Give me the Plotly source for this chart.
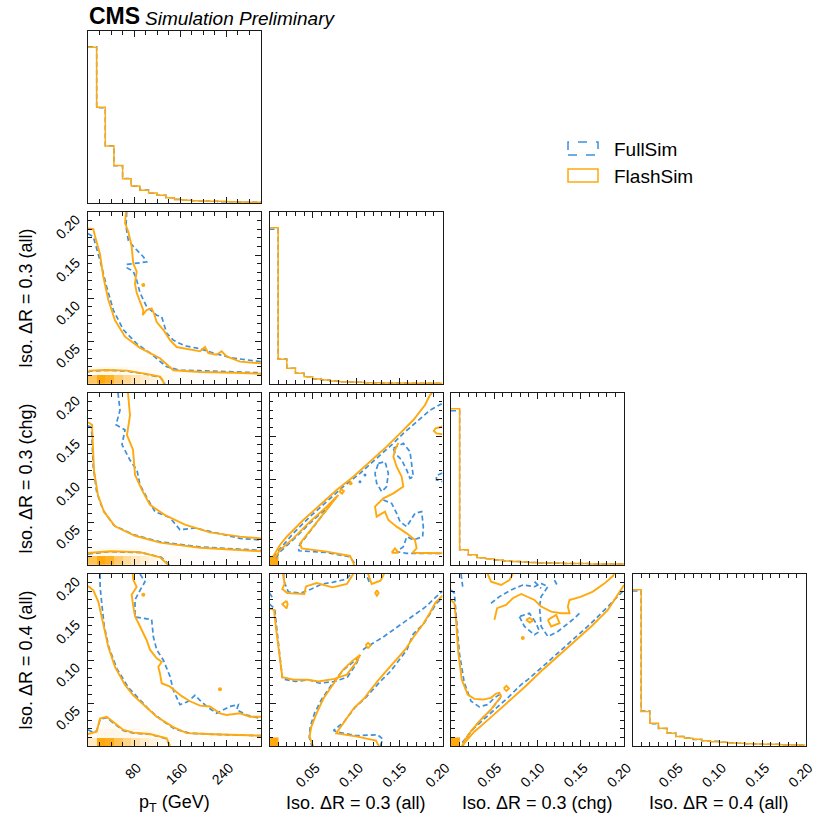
import numpy as np
import plotly.graph_objects as go

FONT = "Liberation Sans, Arial, Helvetica, sans-serif"
FULL_COLOR = "#3f90da"
FLASH_COLOR = "#ffa90e"
AX_COLOR = "#1a1a1a"

# ---------------- variables / axes ----------------
VAR_LABELS = ["p<sub>T</sub> (GeV)", "Iso. ΔR = 0.3 (all)", "Iso. ΔR = 0.3 (chg)", "Iso. ΔR = 0.4 (all)"]
VAR_RANGES = [(0.0, 300.0), (0.0, 0.2), (0.0, 0.2), (0.0, 0.2)]
VAR_TICKVALS = [[80, 160, 240], [0.05, 0.10, 0.15, 0.20], [0.05, 0.10, 0.15, 0.20], [0.05, 0.10, 0.15, 0.20]]
VAR_TICKTEXT = [["80", "160", "240"], ["0.05", "0.10", "0.15", "0.20"],
                ["0.05", "0.10", "0.15", "0.20"], ["0.05", "0.10", "0.15", "0.20"]]
VAR_MINOR = [20, 0.01, 0.01, 0.01]
N_BINS = 20

# ---------------- 1D histograms (20 bins over the axis range) ----------------
hist_pt_full = [470, 286, 172, 112, 74, 50, 39, 29, 23, 16, 11, 8, 7, 6, 5, 4, 4, 3, 2, 2]
hist_pt_flash = [468, 288, 171, 113, 73, 51, 38, 30, 23, 16, 10, 8, 7, 6, 5, 5, 4, 3, 2, 2]
hist_iso03all_full = [462, 75, 47, 32, 22, 15, 12, 9, 7, 6, 5, 4, 4, 3, 3, 3, 2, 2, 2, 2]
hist_iso03all_flash = [467, 74, 47, 32, 22, 15, 12, 9, 7, 6, 5, 4, 4, 3, 3, 3, 2, 2, 2, 2]
hist_iso03chg_full = [151, 15, 10, 7, 6, 5, 4, 3.5, 3, 2.5, 2, 2, 1.8, 1.5, 1.5, 1.4, 1, 1, 1, 1]
hist_iso03chg_flash = [153, 15, 10, 7, 6, 5, 4, 3.5, 3, 2.5, 2, 2, 2, 1.5, 1.5, 1.5, 1, 1, 1, 1]
hist_iso04all_full = [462, 104, 66, 52, 39, 28, 24, 19, 16, 14, 11, 10, 8, 7, 6, 5, 5, 4, 4, 3]
hist_iso04all_flash = [466, 103, 68, 53, 38, 28, 23, 20, 16, 13, 11, 9, 8, 7, 6, 5, 5, 4, 4, 3]

# ---------------- 2D density (FlashSim, bottom bins) ----------------
dens_pt_iso03all = [
    [0.65, 1.0, 0.9, 0.62, 0.45, 0.32, 0.22, 0.14, 0.07, 0.03, 0.02, 0.02, 0.02, 0.01, 0.01, 0.01, 0.01, 0.01, 0.01, 0.01],
    [0.04, 0.07, 0.07, 0.06, 0.05, 0.04, 0.03, 0.03, 0.02, 0.02, 0.01, 0.01, 0.01, 0.01, 0.01, 0.01, 0.01, 0.01, 0.01, 0.01],
]
dens_pt_iso03chg = [
    [0.7, 1.0, 0.9, 0.6, 0.42, 0.3, 0.2, 0.12, 0.06, 0.03, 0.02, 0.02, 0.01, 0.01, 0.01, 0.01, 0.01, 0.01, 0.01, 0.01],
    [0.04, 0.07, 0.07, 0.06, 0.05, 0.04, 0.03, 0.02, 0.02, 0.01, 0.01, 0.01, 0.01, 0.01, 0.01, 0.01, 0.01, 0.01, 0.01, 0.01],
]
dens_pt_iso04all = [
    [0.25, 1.0, 0.95, 0.7, 0.5, 0.35, 0.22, 0.14, 0.08, 0.04, 0.02, 0.02, 0.02, 0.01, 0.01, 0.01, 0.01, 0.01, 0.01, 0.01],
    [0.03, 0.1, 0.1, 0.09, 0.08, 0.06, 0.05, 0.04, 0.03, 0.02, 0.01, 0.01, 0.01, 0.01, 0.01, 0.01, 0.01, 0.01, 0.01, 0.01],
    [0.01, 0.03, 0.04, 0.04, 0.03, 0.02, 0.02, 0.01, 0.01, 0.01, 0.0, 0.0, 0.0, 0.0, 0.0, 0.0, 0.0, 0.0, 0.0, 0.0],
]
dens_iso_corner = [[1.0]]

# ---------------- contour lines (data units) ----------------
# pT vs Iso03(all)
c21_flash_inner = [(0.5, 0.0143), (3.5, 0.0155), (32.4, 0.0163), (67.1, 0.0155), (95.9, 0.0124), (124.9, 0.0085), (130.6, 0.0027), (131.5, 0.0)]
c21_flash_mid = [(0, 0.181), (9.2, 0.180), (12.1, 0.172), (20.8, 0.151), (26.5, 0.125), (35.2, 0.098), (46.8, 0.074), (64.2, 0.055),
                 (90.2, 0.042), (124.9, 0.030), (148, 0.016), (194, 0.014), (252, 0.013), (300, 0.012)]
c21_flash_outer = [(65.9, 0.2), (64.2, 0.187), (69.9, 0.177), (75.7, 0.160), (78.5, 0.140), (84.4, 0.131), (81.5, 0.117), (84.4, 0.106),
                   (95.9, 0.086), (94.8, 0.080), (101.7, 0.086), (110.4, 0.088), (114.4, 0.082), (119.1, 0.072), (130.6, 0.063),
                   (142.2, 0.051), (153.8, 0.043), (171.1, 0.041), (194.2, 0.038), (202.8, 0.043), (208.6, 0.036), (223.1, 0.034),
                   (231.7, 0.038), (240.4, 0.032), (263.5, 0.026), (300, 0.024)]
c21_flash_dots = [(95.9, 0.115)]
c21_full_inner = [(0.5, 0.0135), (3.5, 0.015), (32.4, 0.016), (67.1, 0.015), (95.9, 0.012), (124.9, 0.008), (132, 0.0025), (133, 0.0)]
c21_full_mid = [(0, 0.175), (9.2, 0.171), (20.8, 0.144), (32.4, 0.113), (43.9, 0.086), (61.3, 0.063), (84.4, 0.047), (107.5, 0.036),
                (136.5, 0.020), (159.5, 0.016), (194.2, 0.0155), (300, 0.013)]
c21_full_outer = [(67.1, 0.2), (65.9, 0.183), (69.9, 0.167), (78.5, 0.160), (95.9, 0.148), (101.7, 0.142), (90.2, 0.141), (67.1, 0.139),
                  (68.1, 0.135), (78.5, 0.131), (84.4, 0.121), (90.2, 0.106), (101.7, 0.090), (119.1, 0.080), (127.8, 0.078),
                  (133.5, 0.067), (136.5, 0.059), (147.9, 0.051), (159.5, 0.047), (171.1, 0.044), (194.2, 0.041), (217.3, 0.036),
                  (252, 0.030), (300, 0.026)]

# pT vs Iso03(chg)
c31_flash_inner = [(0, 0.014), (38, 0.016), (90, 0.015), (125, 0.009), (139, 0.0)]
c31_flash_mid = [(0, 0.166), (6.9, 0.163), (10.4, 0.110), (17.3, 0.081), (27.7, 0.062), (46.8, 0.045), (81.5, 0.034), (124.9, 0.026),
                 (194.2, 0.020), (300, 0.016)]
c31_flash_outer = [(69.4, 0.2), (72.8, 0.174), (67.6, 0.151), (78, 0.134), (81.5, 0.105), (93.6, 0.087), (107.5, 0.07), (133.5, 0.058),
                   (168.2, 0.047), (211.5, 0.038), (263.5, 0.033), (300, 0.031)]
c31_full_inner = [(0, 0.013), (38, 0.0155), (92, 0.0145), (127, 0.009), (141, 0.0)]
c31_full_mid = [(0, 0.162), (6, 0.160), (9, 0.115), (15, 0.085), (26, 0.064), (45, 0.046), (80, 0.035), (125, 0.027), (194, 0.021), (300, 0.017)]
c31_full_outer = [(52, 0.2), (55.5, 0.18), (48.6, 0.163), (64.2, 0.157), (58.9, 0.14), (72.8, 0.122), (85, 0.11), (90.2, 0.093),
                  (104, 0.076), (116.2, 0.062), (142.2, 0.055), (159.5, 0.041), (185.5, 0.043), (220.2, 0.038), (263.5, 0.031), (300, 0.029)]

# pT vs Iso04(all)
c41_flash_inner = [(0, 0.014), (15, 0.0167), (20.8, 0.032), (32.4, 0.034), (43.9, 0.028), (61.3, 0.0186), (78.6, 0.0155),
                   (107.5, 0.014), (136.5, 0.0089), (142.2, 0.0)]
c41_flash_mid = [(0, 0.186), (2.3, 0.185), (9.2, 0.181), (17.9, 0.168), (26.5, 0.143), (35.2, 0.115), (46.8, 0.092), (64.2, 0.071),
                 (78.5, 0.059), (95.9, 0.048), (119.1, 0.034), (148, 0.022), (171.1, 0.015), (217.3, 0.0136), (300, 0.012)]
c41_flash_outer = [(77.5, 0.2), (78.6, 0.193), (84.4, 0.185), (75.7, 0.176), (78.6, 0.162), (81.5, 0.151), (90.2, 0.139), (101.7, 0.123),
                   (107.5, 0.112), (119.1, 0.102), (127.8, 0.098), (121.9, 0.092), (124.9, 0.084), (127.8, 0.073), (142.2, 0.069),
                   (153.8, 0.063), (162.5, 0.058), (176.9, 0.052), (194.2, 0.047), (211.5, 0.046), (228.8, 0.038), (240.4, 0.036),
                   (263.5, 0.038), (280.8, 0.034), (300, 0.034)]
c41_flash_dots = [(95.9, 0.176), (228.9, 0.066)]
c41_full_inner = [(0, 0.019), (8, 0.016), (15, 0.0175), (21, 0.031), (32, 0.033), (44, 0.027), (61, 0.018), (79, 0.015), (108, 0.0135),
                  (136, 0.0085), (142, 0.0)]
c41_full_mid = [(21, 0.2), (21, 0.185), (24, 0.165), (28, 0.14), (36, 0.115), (50, 0.09), (70, 0.068), (88, 0.055), (105, 0.043),
                (128, 0.030), (150, 0.020), (175, 0.015), (220, 0.0135), (300, 0.012)]
c41_full_outer = [(90.2, 0.2), (98.8, 0.191), (90.2, 0.181), (81.5, 0.170), (81.5, 0.150), (110.4, 0.147), (113.3, 0.127), (119.1, 0.112),
                  (130.6, 0.100), (142.2, 0.081), (148, 0.065), (159.5, 0.048), (174, 0.052), (185.5, 0.059), (194.2, 0.053),
                  (205.8, 0.046), (223.1, 0.038), (246.2, 0.046), (260.7, 0.048), (257.8, 0.042), (275.2, 0.036), (300, 0.032)]

# Iso03(all) vs Iso03(chg)
c32_flash_o1 = [(0.003, 0.008), (0.0121, 0.0233), (0.0199, 0.0329), (0.0391, 0.0523), (0.0584, 0.0698), (0.0776, 0.0872), (0.0969, 0.1027),
                (0.1162, 0.1202), (0.1354, 0.1376), (0.1509, 0.1531), (0.1663, 0.1686), (0.1798, 0.186), (0.1855, 0.1977), (0.188, 0.2)]
c32_flash_o2 = [(0.006, 0.008), (0.0121, 0.0174), (0.0275, 0.031), (0.0468, 0.0504), (0.0661, 0.0678), (0.0796, 0.0814), (0.0353, 0.0252),
                (0.0372, 0.0194), (0.0661, 0.0155), (0.0931, 0.0105), (0.0969, 0.0027), (0.0977, 0.0)]
c32_flash_r = [(0.149, 0.142), (0.1451, 0.1337), (0.1432, 0.126), (0.147, 0.1143), (0.1528, 0.1027), (0.1547, 0.0911), (0.1432, 0.0833),
               (0.1316, 0.0775), (0.122, 0.0678), (0.1239, 0.0562), (0.1335, 0.062), (0.1374, 0.0523), (0.147, 0.0446), (0.1586, 0.0368),
               (0.1682, 0.0291), (0.1701, 0.0194), (0.1655, 0.0143), (0.1817, 0.0136), (0.2, 0.0136)]
c32_flash_tri = [(0.1412, 0.0143), (0.1451, 0.0194), (0.149, 0.0143), (0.1412, 0.0143)]
c32_flash_edge = [(0.2, 0.161), (0.192, 0.159), (0.19, 0.156), (0.193, 0.153), (0.2, 0.152)]
c32_flash_loop = [(0.081, 0.085), (0.083, 0.088), (0.086, 0.086), (0.084, 0.083), (0.081, 0.085)]
c32_flash_dots = [(0.0937, 0.095)]
c32_full_b1 = [(0.004, 0.009), (0.0275, 0.0368), (0.0468, 0.0562), (0.0661, 0.0736), (0.0853, 0.0911), (0.1046, 0.1066), (0.1239, 0.124),
               (0.1432, 0.1415), (0.1547, 0.1531), (0.1701, 0.1667), (0.1855, 0.180), (0.2, 0.188)]
c32_full_b2 = [(0.007, 0.008), (0.013, 0.016), (0.028, 0.030), (0.047, 0.049), (0.066, 0.066), (0.0776, 0.0795), (0.0334, 0.0213),
               (0.034, 0.0165), (0.066, 0.0145), (0.093, 0.0095), (0.098, 0.0025), (0.099, 0.0)]
c32_full_l1 = [(0.1432, 0.1357), (0.1547, 0.1414), (0.1624, 0.1318), (0.1644, 0.1143), (0.1663, 0.1027), (0.1624, 0.1008),
               (0.1586, 0.1105), (0.1528, 0.1221), (0.1451, 0.1299), (0.1432, 0.1357)]
c32_full_l2 = [(0.1258, 0.1182), (0.1335, 0.1202), (0.1374, 0.1066), (0.1354, 0.0911), (0.1297, 0.0853), (0.1239, 0.095),
               (0.122, 0.1066), (0.1258, 0.1182)]
c32_full_l3 = [(0.1316, 0.0756), (0.1412, 0.0717), (0.147, 0.0601), (0.1509, 0.0504), (0.1586, 0.0446), (0.1682, 0.0601),
               (0.1759, 0.062), (0.1778, 0.0446), (0.1771, 0.0329), (0.1663, 0.0291), (0.1586, 0.0329), (0.1547, 0.0213),
               (0.147, 0.0155), (0.1586, 0.0136), (0.2, 0.0136)]
c32_full_edge = [(0.2, 0.107), (0.193, 0.104), (0.193, 0.099), (0.2, 0.097)]
c32_full_dots = [(0.1104, 0.1046), (0.1046, 0.0969)]

# Iso03(all) vs Iso04(all)
c42_flash_u = [(0, 0.160), (0.0053, 0.158), (0.0074, 0.138), (0.0107, 0.112), (0.0148, 0.080), (0.0279, 0.077), (0.0443, 0.077),
               (0.0566, 0.075), (0.075, 0.078), (0.0894, 0.083), (0.1, 0.097), (0.105, 0.106), (0.0955, 0.0987),
               (0.0853, 0.0889), (0.073, 0.0714), (0.0627, 0.0558), (0.0545, 0.0382), (0.0484, 0.0226), (0.0463, 0.0109), (0.0504, 0.0)]
c42_flash_r = [(0.1263, 0.0), (0.123, 0.0062), (0.1017, 0.0109), (0.0771, 0.0148), (0.0853, 0.0265), (0.0976, 0.0441), (0.1099, 0.0558),
               (0.114, 0.0616), (0.1263, 0.0772), (0.1365, 0.0889), (0.1488, 0.1026), (0.157, 0.1123), (0.1673, 0.1279),
               (0.1775, 0.1416), (0.1857, 0.1552), (0.1919, 0.1669), (0.2, 0.1747)]
c42_flash_tl = [(0.0156, 0.2), (0.0176, 0.1884), (0.0148, 0.1825), (0.0205, 0.1778), (0.0402, 0.1767), (0.0422, 0.1856), (0.0545, 0.1895),
                (0.073, 0.1845), (0.0894, 0.1884), (0.0955, 0.1973), (0.0968, 0.2)]
c42_flash_tb = [(0.114, 0.2), (0.1181, 0.1884), (0.1283, 0.1923), (0.1324, 0.2)]
c42_flash_d1 = [(0.1242, 0.181), (0.1262, 0.1778), (0.1242, 0.1746), (0.1222, 0.1778), (0.1242, 0.181)]
c42_flash_d2 = [(0.0197, 0.1689), (0.0148, 0.165), (0.0197, 0.16), (0.021, 0.165), (0.0197, 0.1689)]
c42_flash_d3 = [(0.111, 0.117), (0.114, 0.120), (0.117, 0.117), (0.114, 0.114), (0.111, 0.117)]
c42_full_u = [(0, 0.165), (0.006, 0.160), (0.008, 0.140), (0.011, 0.110), (0.015, 0.078), (0.03, 0.075), (0.045, 0.077), (0.058, 0.073),
              (0.075, 0.075), (0.09, 0.080), (0.1, 0.095), (0.104, 0.104), (0.096, 0.097), (0.084, 0.087), (0.071, 0.07), (0.06, 0.054),
              (0.052, 0.038), (0.047, 0.022), (0.046, 0.01), (0.049, 0.0)]
c42_full_diag = [(0.108, 0.112), (0.114, 0.1162), (0.1304, 0.126), (0.1468, 0.1377), (0.1632, 0.1494), (0.1796, 0.1611),
                 (0.1919, 0.1728), (0.2, 0.18)]
c42_full_r = [(0.128, 0.0), (0.131, 0.008), (0.125, 0.013), (0.10, 0.012), (0.08, 0.016), (0.074, 0.018), (0.086, 0.028), (0.099, 0.045),
              (0.112, 0.057), (0.128, 0.075), (0.140, 0.087), (0.15, 0.10), (0.159, 0.112), (0.166, 0.13), (0.178, 0.142), (0.187, 0.156),
              (0.193, 0.166), (0.2, 0.172)]
c42_full_tl = [(0.0164, 0.2), (0.0164, 0.1923), (0.0217, 0.1794), (0.0361, 0.1778), (0.0484, 0.1825), (0.0607, 0.1884), (0.073, 0.1903),
               (0.0894, 0.1942), (0.0935, 0.2)]
c42_full_tb = [(0.1132, 0.1962), (0.116, 0.1884)]
c42_full_edge = [(0, 0.178), (0.005, 0.170)]

# Iso03(chg) vs Iso04(all)
c43_flash_d1 = [(0.0124, 0.0), (0.027, 0.0166), (0.0463, 0.0336), (0.0656, 0.051), (0.0849, 0.0683), (0.1042, 0.0869), (0.1235, 0.1042),
                (0.1428, 0.1216), (0.1621, 0.139), (0.1814, 0.1583), (0.193, 0.1756), (0.2, 0.1872)]
c43_flash_u = [(0, 0.1698), (0.0039, 0.166), (0.0058, 0.1467), (0.0085, 0.108), (0.0124, 0.0772), (0.0193, 0.0598), (0.027, 0.0548),
               (0.0367, 0.054), (0.0463, 0.056), (0.0521, 0.061), (0.056, 0.0618), (0.0579, 0.0579), (0.0463, 0.0425), (0.0347, 0.0309),
               (0.0232, 0.0174), (0.0154, 0.0058), (0.0139, 0.0)]
c43_flash_upper = [(0.0502, 0.1467), (0.0533, 0.1602), (0.0637, 0.1641), (0.0714, 0.1718), (0.0811, 0.1768), (0.0965, 0.1698),
                   (0.1042, 0.1621), (0.1158, 0.1563), (0.1274, 0.1544), (0.137, 0.1544), (0.1351, 0.1621), (0.137, 0.1698),
                   (0.1505, 0.1737), (0.164, 0.1795), (0.1776, 0.1891), (0.1872, 0.1976), (0.1884, 0.2)]
c43_flash_top = [(0.0425, 0.2), (0.0463, 0.1911), (0.0579, 0.1872), (0.0676, 0.193), (0.0714, 0.2)]
c43_flash_diamond = [(0.112, 0.1467), (0.1216, 0.1525), (0.1255, 0.1428), (0.1158, 0.139), (0.112, 0.1467)]
c43_flash_loop = [(0.0869, 0.1467), (0.091, 0.149), (0.0946, 0.1459), (0.091, 0.1436), (0.0869, 0.1467)]
c43_flash_loop2 = [(0.061, 0.067), (0.064, 0.070), (0.067, 0.067), (0.064, 0.064), (0.061, 0.067)]
c43_flash_dots = [(0.083, 0.1255)]
c43_full_d = [(0.013, 0.004), (0.027, 0.0212), (0.0463, 0.0386), (0.0656, 0.056), (0.0811, 0.0714), (0.0888, 0.0772), (0.1042, 0.0907),
              (0.1235, 0.1081), (0.1428, 0.1255), (0.1621, 0.1428), (0.1814, 0.1621), (0.2, 0.1814)]
c43_full_u = [(0, 0.1814), (0.0039, 0.1776), (0.0058, 0.1544), (0.0097, 0.108), (0.0154, 0.0733), (0.0232, 0.0521), (0.0328, 0.0455),
              (0.0425, 0.0482), (0.0502, 0.056), (0.056, 0.0598), (0.0579, 0.057), (0.046, 0.042), (0.034, 0.030), (0.023, 0.017),
              (0.015, 0.005), (0.014, 0.0)]
c43_full_upper = [(0.0463, 0.166), (0.056, 0.1737), (0.0695, 0.1814), (0.083, 0.1872), (0.0965, 0.1853), (0.1042, 0.1891), (0.112, 0.1853),
                  (0.1042, 0.1737), (0.1023, 0.1621), (0.1042, 0.139), (0.112, 0.1274), (0.1235, 0.1332), (0.1428, 0.1486), (0.1505, 0.1563)]
c43_full_loop = [(0.0791, 0.1505), (0.0849, 0.139), (0.0965, 0.1293), (0.1023, 0.1332), (0.0984, 0.1428), (0.0907, 0.1544), (0.0791, 0.1505)]
c43_full_tl = [(0.0116, 0.2), (0.0135, 0.1853)]
c43_full_sq = [(0.1197, 0.193), (0.1235, 0.1853)]
c43_full_x = [(0.0965, 0.1911), (0.1042, 0.1834)]

# ---------------- panel bookkeeping ----------------
HISTS = {
    0: (hist_pt_full, hist_pt_flash),
    1: (hist_iso03all_full, hist_iso03all_flash),
    2: (hist_iso03chg_full, hist_iso03chg_flash),
    3: (hist_iso04all_full, hist_iso04all_flash),
}
PANELS_2D = {
    (1, 0): dict(full=[c21_full_inner, c21_full_mid, c21_full_outer], flash=[c21_flash_inner, c21_flash_mid, c21_flash_outer],
                 full_dots=[], flash_dots=c21_flash_dots, dens=dens_pt_iso03all),
    (2, 0): dict(full=[c31_full_inner, c31_full_mid, c31_full_outer], flash=[c31_flash_inner, c31_flash_mid, c31_flash_outer],
                 full_dots=[], flash_dots=[], dens=dens_pt_iso03chg),
    (3, 0): dict(full=[c41_full_inner, c41_full_mid, c41_full_outer], flash=[c41_flash_inner, c41_flash_mid, c41_flash_outer],
                 full_dots=[], flash_dots=c41_flash_dots, dens=dens_pt_iso04all),
    (2, 1): dict(full=[c32_full_b1, c32_full_b2, c32_full_l1, c32_full_l2, c32_full_l3, c32_full_edge],
                 flash=[c32_flash_o1, c32_flash_o2, c32_flash_r, c32_flash_tri, c32_flash_edge, c32_flash_loop],
                 full_dots=c32_full_dots, flash_dots=c32_flash_dots, dens=dens_iso_corner),
    (3, 1): dict(full=[c42_full_u, c42_full_diag, c42_full_r, c42_full_tl, c42_full_tb, c42_full_edge],
                 flash=[c42_flash_u, c42_flash_r, c42_flash_tl, c42_flash_tb, c42_flash_d1, c42_flash_d2, c42_flash_d3],
                 full_dots=[], flash_dots=[], dens=dens_iso_corner),
    (3, 2): dict(full=[c43_full_d, c43_full_u, c43_full_upper, c43_full_loop, c43_full_tl, c43_full_sq, c43_full_x],
                 flash=[c43_flash_d1, c43_flash_u, c43_flash_upper, c43_flash_top, c43_flash_diamond, c43_flash_loop, c43_flash_loop2],
                 full_dots=[], flash_dots=c43_flash_dots, dens=dens_iso_corner),
}

# layout geometry (pixels in the 816x821 canvas)
W, H = 816, 821
COL_LEFT = [88, 269.5, 451, 632.5]
ROW_TOP = [31, 212, 393, 574]
PW, PH = 173, 172

AXIS_ID = {}
k = 1
for r in range(4):
    for c in range(r + 1):
        AXIS_ID[(r, c)] = k
        k += 1


def xd(c):
    return [COL_LEFT[c] / W, (COL_LEFT[c] + PW) / W]


def yd(r):
    return [1 - (ROW_TOP[r] + PH) / H, 1 - ROW_TOP[r] / H]


def edges(var):
    lo, hi = VAR_RANGES[var]
    return np.linspace(lo, hi, N_BINS + 1)


fig = go.Figure()
layout = {}

tickfont = dict(family=FONT, size=14, color="#000")


def var_axis(var, domain, anchor, show_labels, is_x):
    ax = dict(
        domain=domain, anchor=anchor, range=list(VAR_RANGES[var]),
        tickmode="array", tickvals=VAR_TICKVALS[var], ticktext=VAR_TICKTEXT[var],
        showticklabels=show_labels, ticks="inside", ticklen=6, tickwidth=1, tickcolor=AX_COLOR,
        minor=dict(dtick=VAR_MINOR[var], tick0=0, ticks="inside", ticklen=3.5, tickwidth=1, tickcolor=AX_COLOR),
        showline=True, linecolor=AX_COLOR, linewidth=1.4, mirror="allticks",
        showgrid=False, zeroline=False, tickangle=-45, tickfont=tickfont, fixedrange=True,
        automargin=False, ticklabeloverflow="allow",
    )
    if is_x:
        ax["ticklabelshift"] = 3
        ax["ticklabelstandoff"] = 7
    else:
        ax["ticklabelshift"] = 6
        ax["ticklabelstandoff"] = 8
    return ax


for (r, c), kid in AXIS_ID.items():
    xs = "x" if kid == 1 else f"x{kid}"
    ys = "y" if kid == 1 else f"y{kid}"
    xkey = "xaxis" if kid == 1 else f"xaxis{kid}"
    ykey = "yaxis" if kid == 1 else f"yaxis{kid}"
    layout[xkey] = var_axis(c, xd(c), ys, r == 3, True)
    if r == c:
        full_v, flash_v = HISTS[r]
        e = edges(r)
        ymax = 1.1 * max(max(full_v), max(flash_v))
        layout[ykey] = dict(domain=yd(r), anchor=xs, range=[0, ymax], showticklabels=False, ticks="",
                            showline=True, linecolor=AX_COLOR, linewidth=1.4, mirror=True,
                            showgrid=False, zeroline=False, fixedrange=True, automargin=False)
        for vals, col, dash in [(full_v, FULL_COLOR, "5px,3px"), (flash_v, FLASH_COLOR, "solid")]:
            fig.add_trace(go.Scatter(x=list(e), y=list(vals) + [vals[-1]], mode="lines", line_shape="hv",
                                     line=dict(color=col, width=1.5, dash=dash), xaxis=xs, yaxis=ys,
                                     showlegend=False, hoverinfo="skip"))
    else:
        layout[ykey] = var_axis(r, yd(r), xs, c == 0, False)
        p = PANELS_2D[(r, c)]
        dens = p["dens"]
        ex = edges(c)[: len(dens[0]) + 1]
        ey = edges(r)[: len(dens) + 1]
        fig.add_trace(go.Heatmap(x=list(ex), y=list(ey), z=dens, zmin=0, zmax=1,
                                 colorscale=[[0, "#ffffff"], [1, FLASH_COLOR]], showscale=False,
                                 xaxis=xs, yaxis=ys, hoverinfo="skip"))
        for cur in p["full"]:
            fig.add_trace(go.Scatter(x=[pt[0] for pt in cur], y=[pt[1] for pt in cur], mode="lines",
                                     line=dict(color=FULL_COLOR, width=1.7, dash="5px,3px"),
                                     xaxis=xs, yaxis=ys, showlegend=False, hoverinfo="skip"))
        if p["full_dots"]:
            fig.add_trace(go.Scatter(x=[pt[0] for pt in p["full_dots"]], y=[pt[1] for pt in p["full_dots"]], mode="markers",
                                     marker=dict(color=FULL_COLOR, size=3), xaxis=xs, yaxis=ys,
                                     showlegend=False, hoverinfo="skip"))
        for cur in p["flash"]:
            fig.add_trace(go.Scatter(x=[pt[0] for pt in cur], y=[pt[1] for pt in cur], mode="lines",
                                     line=dict(color=FLASH_COLOR, width=1.9),
                                     xaxis=xs, yaxis=ys, showlegend=False, hoverinfo="skip"))
        if p["flash_dots"]:
            fig.add_trace(go.Scatter(x=[pt[0] for pt in p["flash_dots"]], y=[pt[1] for pt in p["flash_dots"]], mode="markers",
                                     marker=dict(color=FLASH_COLOR, size=4), xaxis=xs, yaxis=ys,
                                     showlegend=False, hoverinfo="skip"))

annotations = []
# axis titles
for c in range(4):
    annotations.append(dict(text=VAR_LABELS[c], x=(COL_LEFT[c] + PW / 2) / W, y=1 - 803 / H, xref="paper", yref="paper",
                            xanchor="center", yanchor="middle", showarrow=False,
                            font=dict(family=FONT, size=18, color="#000")))
for r in range(1, 4):
    annotations.append(dict(text=VAR_LABELS[r], x=26 / W, y=1 - (ROW_TOP[r] + PH / 2) / H, xref="paper", yref="paper",
                            xanchor="center", yanchor="middle", textangle=-90, showarrow=False,
                            font=dict(family=FONT, size=18, color="#000")))
# CMS label
annotations.append(dict(text="<b>CMS</b>", x=87 / W, y=1 - 31 / H, xref="paper", yref="paper", xanchor="left",
                        yanchor="bottom", showarrow=False, font=dict(family=FONT, size=23, color="#000")))
annotations.append(dict(text="<i>Simulation Preliminary</i>", x=143 / W, y=1 - 31 / H, xref="paper", yref="paper",
                        xanchor="left", yanchor="bottom", showarrow=False, font=dict(family=FONT, size=19, color="#000")))
# legend
LEGEND_ITEMS = [("FullSim", FULL_COLOR, "dash"), ("FlashSim", FLASH_COLOR, "solid")]
shapes = []
for i, (name, col, dash) in enumerate(LEGEND_ITEMS):
    yc = 148.5 + i * 27
    shapes.append(dict(type="rect", xref="paper", yref="paper", x0=568 / W, x1=598 / W,
                       y0=1 - (yc + 6.5) / H, y1=1 - (yc - 6.5) / H,
                       line=dict(color=col, width=1.5, dash=dash), fillcolor="rgba(0,0,0,0)"))
    annotations.append(dict(text=name, x=612 / W, y=1 - (yc + 1) / H, xref="paper", yref="paper", xanchor="left",
                            yanchor="middle", showarrow=False, font=dict(family=FONT, size=19, color="#000")))

fig.update_layout(
    width=W, height=H, margin=dict(l=0, r=0, t=0, b=0, pad=0, autoexpand=False),
    paper_bgcolor="white", plot_bgcolor="white", showlegend=False,
    annotations=annotations, shapes=shapes, font=dict(family=FONT),
    **layout,
)
fig.write_html("out.html",
               post_script="document.body.style.margin='0';document.body.style.padding='0';"
                           "document.documentElement.style.overflow='hidden';")
